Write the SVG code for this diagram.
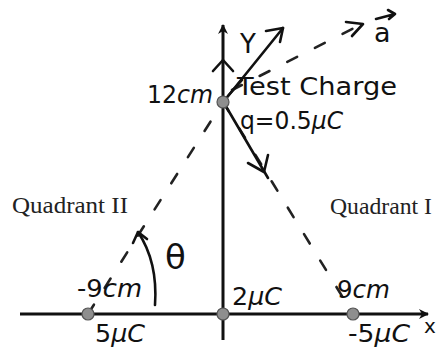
<svg xmlns="http://www.w3.org/2000/svg" width="437" height="347" viewBox="0 0 437 347">
<style>
.hand{font-family:"DejaVu Sans","Liberation Sans",sans-serif;fill:#111}
.it{font-style:italic}
.quad{font-family:"Liberation Serif","DejaVu Serif",serif;font-size:23px;fill:#222}
.axis{stroke:#111;stroke-width:3;fill:none}
.vec{stroke:#111;stroke-width:2.6;fill:none;stroke-linecap:round;stroke-linejoin:round}
.dash{stroke:#222;stroke-width:2.6;fill:none;stroke-dasharray:11 20;stroke-linecap:round}
.chg{fill:#8e8e8e;stroke:#555;stroke-width:1.2}
</style>
<defs>
<marker id="ah" markerWidth="10" markerHeight="10" refX="9" refY="5" orient="auto" markerUnits="userSpaceOnUse">
<path d="M0,0 L10,5 L0,10 L3,5 Z" fill="#111"/>
</marker>
</defs>
<rect width="437" height="347" fill="#fff"/>
<g id="connectors">
<line class="axis" x1="20" y1="314" x2="428" y2="314" marker-end="url(#ah)"/>
<line class="axis" x1="223" y1="340" x2="223" y2="25" marker-end="url(#ah)"/>
<path class="vec" d="M213,71 L223,60 L233,71"/>
<path class="dash" d="M88,314 L223,102"/>
<path class="dash" d="M223,102 L353,314"/>
<path class="dash" d="M232,90 L362,24"/>
<path class="vec" d="M346,22 L363,24 L352,36"/>
<path class="vec" d="M224,101 L283,28"/>
<path class="vec" d="M266,31 L283,28 L280,42"/>
<path class="vec" d="M224,103 L268,178"/>
<path class="vec" d="M248,163 L264,172 L268,155"/>
<path class="vec" d="M228,96 L242,80"/>
<path class="vec" d="M155,305 Q158,262 138,232"/>
<path class="vec" d="M133,243 L138,232 L147,239"/>
<path class="vec" d="M376,19 L395,14 M388,10 L395,14 L389,19"/>
</g>
<g id="charge-origin"><circle class="chg" cx="223" cy="314" r="6"/><text class="hand" x="232" y="305" font-size="24" textLength="50" lengthAdjust="spacingAndGlyphs">2<tspan class="it">μC</tspan></text></g>
<g id="charge-left"><circle class="chg" cx="88" cy="314" r="6"/><text class="hand" x="77" y="297" font-size="24" textLength="65" lengthAdjust="spacingAndGlyphs">-9<tspan class="it">cm</tspan></text><text class="hand" x="95" y="342" font-size="24" textLength="50" lengthAdjust="spacingAndGlyphs">5<tspan class="it">μC</tspan></text></g>
<g id="charge-right"><circle class="chg" cx="353" cy="314" r="6"/><text class="hand" x="337" y="298" font-size="24" textLength="53" lengthAdjust="spacingAndGlyphs">9<tspan class="it">cm</tspan></text><text class="hand" x="348" y="342" font-size="24" textLength="62" lengthAdjust="spacingAndGlyphs">-5<tspan class="it">μC</tspan></text></g>
<g id="test-charge"><circle class="chg" cx="223" cy="102" r="6"/><text class="hand" x="147" y="103" font-size="24" textLength="66" lengthAdjust="spacingAndGlyphs">12<tspan class="it">cm</tspan></text><text class="hand" x="237" y="95" font-size="24" textLength="160" lengthAdjust="spacingAndGlyphs">Test Charge</text><text class="hand" x="240" y="129" font-size="24" textLength="103" lengthAdjust="spacingAndGlyphs">q=0.5<tspan class="it">μC</tspan></text></g>
<g id="labels">
<text class="hand" x="240" y="53" font-size="26">Y</text>
<text class="hand" x="374" y="42" font-size="27">a</text>
<text class="hand" x="165" y="269" font-size="34">θ</text>
<text class="hand" x="424" y="333" font-size="20">x</text>
<text class="quad" x="12" y="213" textLength="116" lengthAdjust="spacingAndGlyphs">Quadrant II</text>
<text class="quad" x="330" y="214" textLength="102" lengthAdjust="spacingAndGlyphs">Quadrant I</text>
</g>
</svg>
